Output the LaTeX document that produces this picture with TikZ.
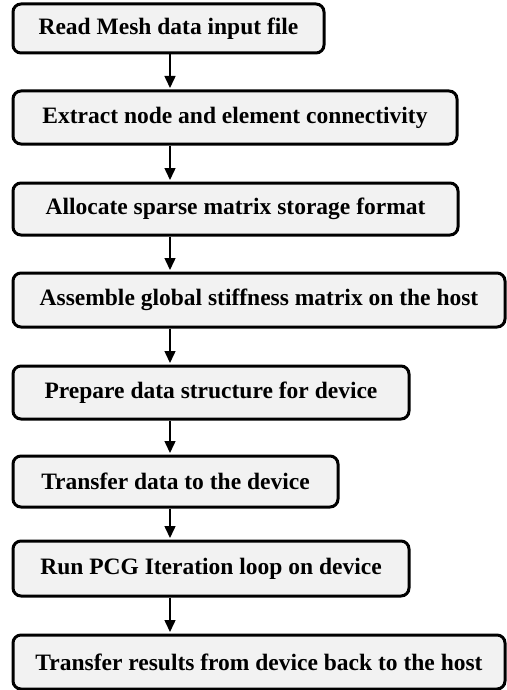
\documentclass[tikz,border=0pt]{standalone}
\usepackage{fontspec}
\setmainfont{Liberation Serif}
\usetikzlibrary{arrows.meta}
\definecolor{boxgray}{HTML}{F2F2F2}
\begin{document}
\begin{tikzpicture}[x=1pt,y=-1pt,
  box/.style={draw, line width=3pt, rounded corners=8pt, fill=boxgray, inner sep=0pt,
    anchor=north west, font=\bfseries\fontsize{23.5}{26}\selectfont},
  arr/.style={line width=1.5pt, -{Triangle[length=12pt,width=11pt]}, shorten >=1.5pt}]
\useasboundingbox (0,0) rectangle (506,690);
\node[box, minimum width=311pt, minimum height=49pt] (b1) at (11.5,2.5) {Read Mesh data input file};
\node[box, minimum width=444pt, minimum height=53pt] (b2) at (11.5,89.5) {Extract node and element connectivity};
\node[box, minimum width=445pt, minimum height=52pt] (b3) at (11.5,181.5) {Allocate sparse matrix storage format};
\node[box, minimum width=492pt, minimum height=54pt] (b4) at (11.5,271.5) {Assemble global stiffness matrix on the host};
\node[box, minimum width=396pt, minimum height=53pt] (b5) at (11.5,364.5) {Prepare data structure for device};
\node[box, minimum width=325pt, minimum height=51pt] (b6) at (11.5,454.5) {Transfer data to the device};
\node[box, minimum width=396pt, minimum height=55pt] (b7) at (11.5,539.5) {Run PCG Iteration loop on device};
\node[box, minimum width=492pt, minimum height=54pt] (b8) at (11.5,633.5) {Transfer results from device back to the host};
\foreach \a/\b in {b1/b2,b2/b3,b3/b4,b4/b5,b5/b6,b6/b7,b7/b8}
  \draw[arr] ([xshift=158.5pt]\a.south west) -- ([xshift=158.5pt]\b.north west);
\end{tikzpicture}
\end{document}
